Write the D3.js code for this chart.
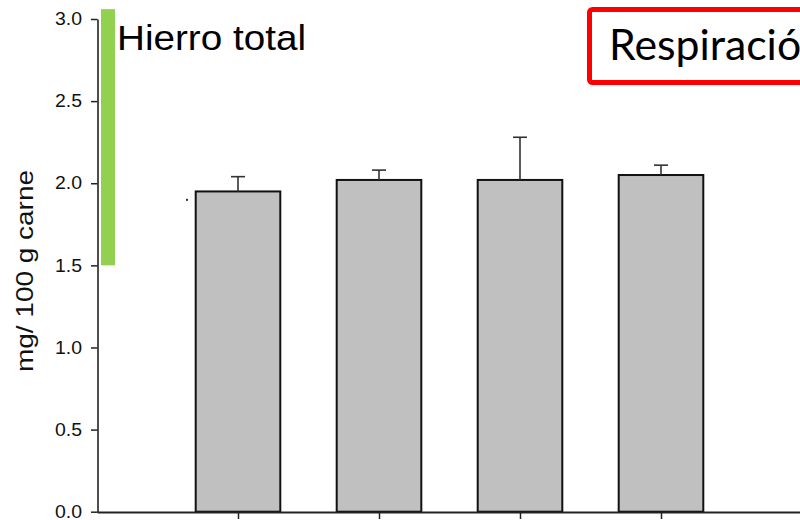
<!DOCTYPE html>
<html>
<head>
<meta charset="utf-8">
<script src="https://cdn.jsdelivr.net/npm/d3@7"></script>
<style>
  html, body { margin: 0; padding: 0; background: #fff; }
  svg { display: block; }
</style>
</head>
<body>
<svg id="chart" width="800" height="520"></svg>
<script>
// Total iron content per treatment (mg / 100 g meat), mean and error
const categories = ["T1", "T2", "T3", "T4"];
const means = [1.95, 2.02, 2.02, 2.05];
const errors = [0.09, 0.06, 0.26, 0.06];
const yTicks = [0.0, 0.5, 1.0, 1.5, 2.0, 2.5, 3.0];
const yLabel = "mg/ 100 g carne";
const titleText = "Hierro total";
const tagText = "Respiración";
const accentRange = [1.5, 3.06]; // green marker along the axis

const svg = d3.select("#chart");
const axisFont = "'Liberation Sans', Arial, sans-serif";

const x = d3.scalePoint().domain(categories).range([97, 802]).padding(1);
const y = d3.scaleLinear().domain([0, 3]).range([511.7, 19]);
const barW = x.step() * 0.6;

// green accent marker next to the y axis
svg.append("rect")
  .attr("x", 101).attr("width", 14)
  .attr("y", y(accentRange[1]))
  .attr("height", y(accentRange[0]) - y(accentRange[1]))
  .attr("fill", "#92d050");

// bars
svg.append("g").selectAll("rect")
  .data(categories)
  .join("rect")
  .attr("x", d => x(d) - barW / 2)
  .attr("y", (d, i) => y(means[i]))
  .attr("width", barW)
  .attr("height", (d, i) => y(0) - y(means[i]))
  .attr("fill", "#c0c0c0")
  .attr("stroke", "#111")
  .attr("stroke-width", 2);

// error bars (upper only)
const eb = svg.append("g").attr("stroke", "#333").attr("stroke-width", 1.6);
categories.forEach((c, i) => {
  const cx = x(c);
  eb.append("line")
    .attr("x1", cx).attr("x2", cx)
    .attr("y1", y(means[i])).attr("y2", y(means[i] + errors[i]));
  eb.append("line")
    .attr("x1", cx - 7).attr("x2", cx + 7)
    .attr("y1", y(means[i] + errors[i])).attr("y2", y(means[i] + errors[i]));
});

// small stray mark left of the first bar
svg.append("rect")
  .attr("x", x(categories[0]) - 52).attr("y", y(1.905))
  .attr("width", 2).attr("height", 2).attr("fill", "#333");

// y axis
const yAxis = svg.append("g")
  .attr("transform", "translate(97.5,0)")
  .call(d3.axisLeft(y).tickValues(yTicks).tickFormat(d3.format(".1f"))
    .tickSize(6.5).tickSizeOuter(0).tickPadding(9));
yAxis.select(".domain").attr("stroke", "#222").attr("stroke-width", 1.6);
yAxis.selectAll(".tick line").attr("stroke", "#222").attr("stroke-width", 1.5);
yAxis.selectAll(".tick text")
  .attr("fill", "#111")
  .attr("textLength", 27)
  .attr("lengthAdjust", "spacingAndGlyphs")
  .style("font-family", axisFont)
  .style("font-size", "18px");

// x axis
const xAxis = svg.append("g")
  .attr("transform", "translate(0,512)")
  .call(d3.axisBottom(x).tickFormat("").tickSize(7).tickSizeOuter(0));
xAxis.select(".domain").attr("stroke", "#222").attr("stroke-width", 1.8);
xAxis.selectAll(".tick line").attr("stroke", "#222").attr("stroke-width", 1.5);

// y axis title
svg.append("text")
  .attr("transform", "translate(33,271) rotate(-90)")
  .attr("text-anchor", "middle")
  .attr("textLength", 202)
  .attr("lengthAdjust", "spacingAndGlyphs")
  .style("font-family", axisFont)
  .style("font-size", "24px")
  .attr("fill", "#111")
  .text(yLabel);

// chart title
svg.append("text")
  .attr("x", 117).attr("y", 50)
  .attr("textLength", 189)
  .attr("lengthAdjust", "spacingAndGlyphs")
  .style("font-family", axisFont)
  .style("font-size", "35px")
  .attr("fill", "#000")
  .text(titleText);

// red tag box
svg.append("rect")
  .attr("x", 589.5).attr("y", 9.5)
  .attr("width", 260).attr("height", 73)
  .attr("rx", 3)
  .attr("fill", "#fff")
  .attr("stroke", "#ff0000")
  .attr("stroke-width", 5);
svg.append("text")
  .attr("x", 609).attr("y", 60)
  .attr("textLength", 216)
  .attr("lengthAdjust", "spacingAndGlyphs")
  .style("font-family", "Lato, 'Open Sans', sans-serif")
  .style("font-size", "42px")
  .attr("fill", "#000")
  .text(tagText);
</script>
</body>
</html>
